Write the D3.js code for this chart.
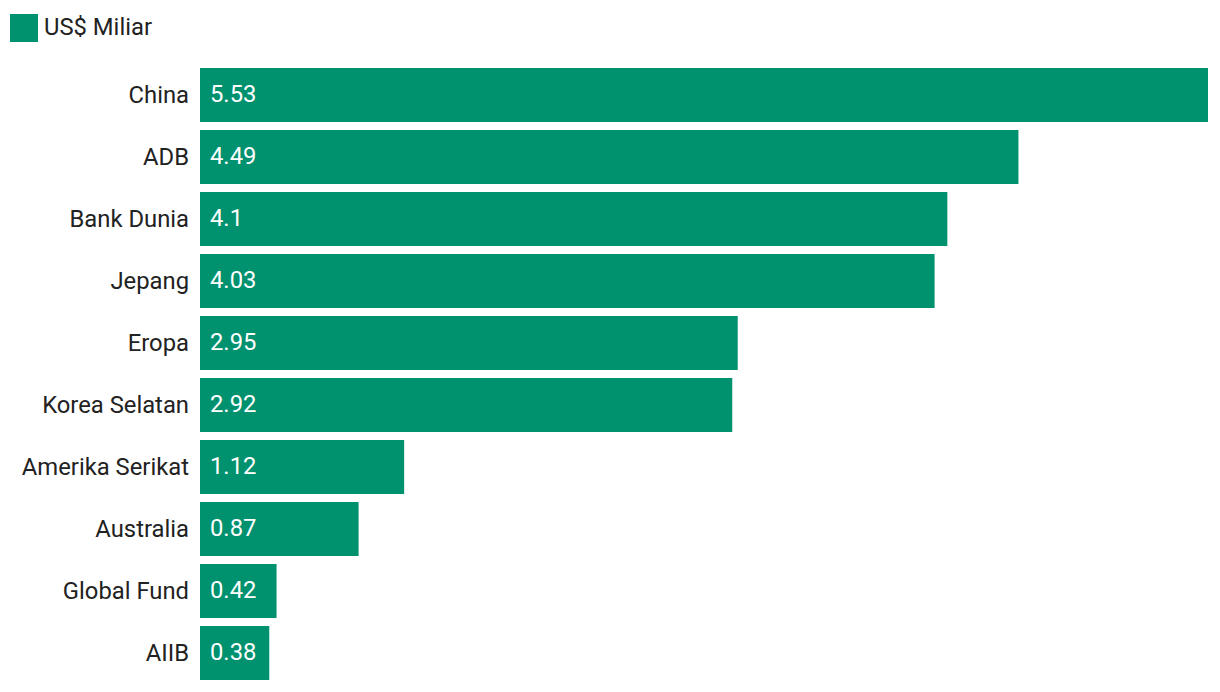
<!DOCTYPE html>
<html><head><meta charset="utf-8">
<script src="https://cdn.jsdelivr.net/npm/d3@7"></script>
<style>body{margin:0;background:#fff;}svg{display:block;font-family:Roboto,sans-serif;}</style>
</head><body><svg id="c" width="1220" height="692"></svg>
<script>
const categories = ["China","ADB","Bank Dunia","Jepang","Eropa","Korea Selatan","Amerika Serikat","Australia","Global Fund","AIIB"];
const values = [5.53,4.49,4.1,4.03,2.95,2.92,1.12,0.87,0.42,0.38];
const valueLabels = ["5.53","4.49","4.1","4.03","2.95","2.92","1.12","0.87","0.42","0.38"];
const seriesName = "US$ Miliar";
const color = "#00916f";

const svg = d3.select("#c");
const x = d3.scaleLinear().domain([0,5.53]).range([200,1208]);
const y = d3.scaleBand().domain(categories).range([64,684]).paddingInner(8/62).paddingOuter(4/62);
const fs = 23.8;

svg.append("rect").attr("x",10).attr("y",14).attr("width",28).attr("height",28).attr("fill",color);
svg.append("text").attr("x",44).attr("y",27).attr("dy","0.35em").attr("font-size",fs).attr("fill","#222").text(seriesName);

const g = svg.append("g");
g.selectAll("rect.bar").data(values).join("rect").attr("class","bar")
 .attr("x",x(0)).attr("y",(d,i)=>y(categories[i])).attr("width",d=>x(d)-x(0)).attr("height",y.bandwidth()).attr("fill",color);
g.selectAll("text.cat").data(categories).join("text").attr("class","cat")
 .attr("x",189).attr("y",d=>y(d)+y.bandwidth()/2).attr("dy","0.35em").attr("text-anchor","end")
 .attr("font-size",fs).attr("fill","#222").text(d=>d);
g.selectAll("text.val").data(valueLabels).join("text").attr("class","val")
 .attr("x",x(0)+10).attr("y",(d,i)=>y(categories[i])+y.bandwidth()/2-1).attr("dy","0.35em")
 .attr("font-size",fs).attr("fill","#fff").text(d=>d);
</script></body></html>
